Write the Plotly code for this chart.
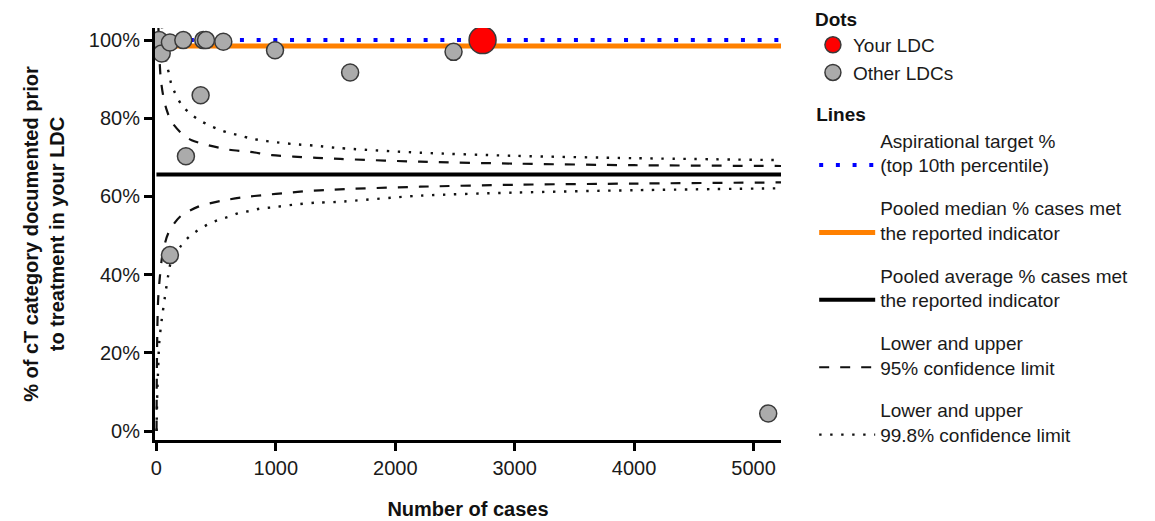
import plotly.graph_objects as go

# ---------------- data ----------------
your_ldc_n = [2731]
your_ldc_pct = [100.0]

other_n = [23, 44, 113, 225, 392, 415, 560, 993, 1622, 370, 247, 113, 2488, 5123]
other_pct = [100.0, 96.6, 99.4, 100.0, 100.0, 100.0, 99.6, 97.4, 91.7, 85.9, 70.3, 45.0, 97.0, 4.5]

x_span = [0, 5230]
aspirational_pct = [100.0, 100.0]
median_pct = [98.5, 98.5]
average_pct = [65.65, 65.65]

ci95_upper_n = [12, 20, 35, 57, 85, 127, 225, 295, 434, 602, 784, 966, 1147, 1343, 1538, 2209, 3000, 4000, 5230]
ci95_upper_pct = [110, 99.5, 90.6, 85.7, 82.2, 79.1, 75.7, 74.4, 73.1, 72.0, 71.4, 70.6, 70.2, 69.9, 69.6, 68.9, 68.4, 68.0, 67.8]
ci95_lower_n = [1, 3, 8, 15, 29, 50, 99, 197, 350, 546, 728, 909, 1091, 1272, 1468, 1594, 2209, 3000, 4000, 5230]
ci95_lower_pct = [0, 14, 27, 34, 39.5, 45, 50.6, 54.8, 57.4, 58.9, 59.8, 60.4, 60.9, 61.4, 61.7, 61.9, 62.5, 63.0, 63.3, 63.6]

ci998_upper_n = [30, 45, 60, 85, 107, 127, 211, 275, 350, 434, 518, 602, 686, 784, 868, 966, 1147, 1329, 1524, 2209, 3000, 4000, 5230]
ci998_upper_pct = [112, 104, 99, 94, 91.2, 88.5, 83.4, 81.4, 79.7, 78.3, 77.2, 76.3, 75.7, 74.9, 74.4, 74.0, 73.4, 73.0, 72.4, 71.2, 70.4, 69.8, 69.3]
ci998_lower_n = [1, 7, 15, 23, 44, 71, 99, 119, 211, 281, 350, 434, 518, 602, 694, 784, 868, 966, 1147, 1329, 1510, 2209, 3000, 4000, 5230]
ci998_lower_pct = [0, 9.7, 16.4, 22.4, 28.4, 34.3, 39.9, 42.9, 47.6, 49.9, 51.4, 52.9, 54.0, 54.8, 55.8, 56.3, 56.9, 57.2, 57.9, 58.4, 58.6, 60.2, 61.0, 61.6, 62.1]

y_ticks = [0, 20, 40, 60, 80, 100]
y_tick_labels = ["0%", "20%", "40%", "60%", "80%", "100%"]
x_ticks = [0, 1000, 2000, 3000, 4000, 5000]
x_tick_labels = ["0", "1000", "2000", "3000", "4000", "5000"]

FONT = "Liberation Sans, Arial, sans-serif"
FS = 20      # axis text
LFS = 19     # legend text

fig = go.Figure()

def band(n_up, p_up, n_lo, p_lo):
    return list(n_up) + [None] + list(n_lo), list(p_up) + [None] + list(p_lo)

# ---- lines ----
fig.add_trace(go.Scatter(
    x=x_span, y=aspirational_pct, mode="lines",
    name="Aspirational target %<br>(top 10th percentile)",
    line=dict(color="#0000ff", width=4, dash="4px,12.7px"),
    legend="legend2", legendgroup="a", legendrank=1, hoverinfo="skip"))
fig.add_trace(go.Scatter(
    x=x_span, y=median_pct, mode="lines",
    name="Pooled median % cases met<br>the reported indicator",
    line=dict(color="#ff8000", width=5),
    legend="legend2", legendgroup="b", legendrank=2, hoverinfo="skip"))
fig.add_trace(go.Scatter(
    x=x_span, y=average_pct, mode="lines",
    name="Pooled average % cases met<br>the reported indicator",
    line=dict(color="#000000", width=4),
    legend="legend2", legendgroup="c", legendrank=3, hoverinfo="skip"))
bx, by = band(ci95_upper_n, ci95_upper_pct, ci95_lower_n, ci95_lower_pct)
fig.add_trace(go.Scatter(
    x=bx, y=by, mode="lines",
    name="Lower and upper<br>95% confidence limit",
    line=dict(color="#111111", width=2.2, dash="10px,11px", shape="spline", smoothing=0.8),
    legend="legend2", legendgroup="d", legendrank=4, hoverinfo="skip"))
bx, by = band(ci998_upper_n, ci998_upper_pct, ci998_lower_n, ci998_lower_pct)
fig.add_trace(go.Scatter(
    x=bx, y=by, mode="lines",
    name="Lower and upper<br>99.8% confidence limit",
    line=dict(color="#111111", width=2.4, dash="2.4px,8.6px", shape="spline", smoothing=0.8),
    legend="legend2", legendgroup="e", legendrank=5, hoverinfo="skip"))

# ---- dots ----
fig.add_trace(go.Scatter(
    x=other_n, y=other_pct, mode="markers", name="Other LDCs",
    marker=dict(color="#ababab", size=17, line=dict(color="#3a3a3a", width=1.5)),
    legend="legend", legendrank=2))
fig.add_trace(go.Scatter(
    x=your_ldc_n, y=your_ldc_pct, mode="markers", name="Your LDC",
    marker=dict(color="#ff0000", size=27, line=dict(color="#3a3a3a", width=1.5)),
    legend="legend", legendrank=1))

axis_common = dict(
    showline=True, linecolor="black", linewidth=3,
    ticks="outside", ticklen=8, tickwidth=2.5, tickcolor="black",
    showgrid=False, zeroline=False, automargin=False,
    tickfont=dict(family=FONT, size=FS, color="#1a1a1a"),
)

fig.update_layout(
    width=1147, height=513,
    margin=dict(l=147, r=374, t=20, b=81, autoexpand=False),
    paper_bgcolor="white", plot_bgcolor="white",
    font=dict(family=FONT, size=FS, color="#1a1a1a"),
    xaxis=dict(
        range=[-12, 5230], tickmode="array", tickvals=x_ticks, ticktext=x_tick_labels,
        title=dict(text="<b>Number of cases</b>", font=dict(family=FONT, size=FS, color="#111111"), standoff=24),
        **axis_common),
    yaxis=dict(
        range=[-2.3, 103.1], tickmode="array", tickvals=y_ticks, ticktext=y_tick_labels,
        title=dict(text="<b>% of cT category documented prior<br>to treatment in your LDC</b>",
                   font=dict(family=FONT, size=FS, color="#111111"), standoff=19),
        **axis_common),
    legend=dict(
        x=1.051, xanchor="left", y=1.065, yanchor="top",
        title=dict(text="<b>Dots</b>", font=dict(family=FONT, size=LFS, color="#111111")),
        font=dict(family=FONT, size=LFS, color="#1a1a1a"),
        bgcolor="rgba(0,0,0,0)", itemwidth=30, tracegroupgap=0,
    ),
    legend2=dict(
        x=1.053, xanchor="left", y=0.833, yanchor="top",
        title=dict(text="<b>Lines</b>", font=dict(family=FONT, size=LFS, color="#111111")),
        font=dict(family=FONT, size=LFS, color="#1a1a1a"),
        bgcolor="rgba(0,0,0,0)", itemwidth=56, tracegroupgap=15, valign="bottom",
    ),
    showlegend=True,
)

fig.write_html("out.html")
